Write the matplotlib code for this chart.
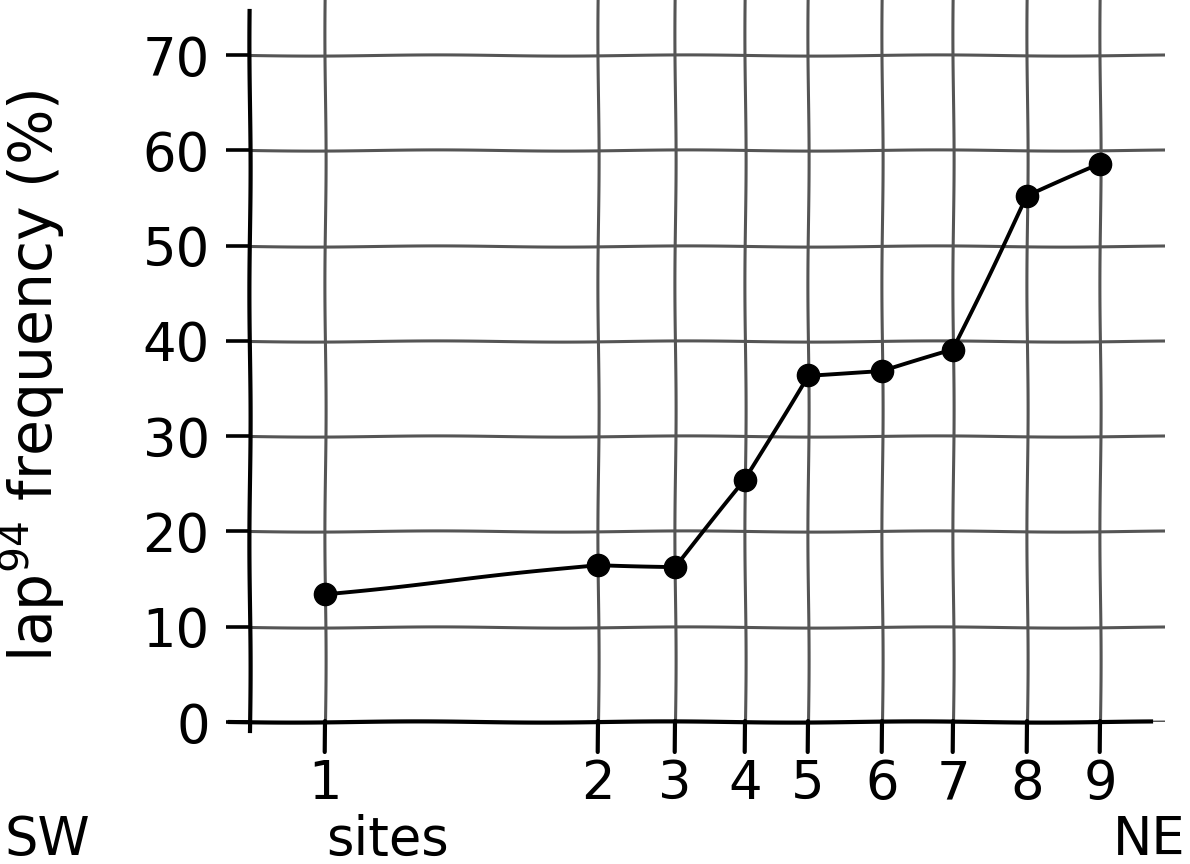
import matplotlib
matplotlib.use("Agg")
import matplotlib.pyplot as plt

# sites along the SW -> NE transect (relative distance)
sites = ["1", "2", "3", "4", "5", "6", "7", "8", "9"]
site_dist = [0, 27.3, 35.0, 42.0, 48.3, 55.7, 62.8, 70.2, 77.5]
freq = [13.4, 16.5, 16.3, 25.4, 36.4, 36.8, 39.1, 55.2, 58.6]
yticks = [0, 10, 20, 30, 40, 50, 60, 70]

plt.rcParams['font.family'] = ['DejaVu Sans']
wobble = (0.6, 250, 1)

fig = plt.figure(figsize=(11.9, 8.64), dpi=100)
ax = fig.add_axes([250 / 1190, 142 / 864, 915 / 1190, 722 / 864])

line, = ax.plot(site_dist, freq, color='black', lw=2.8, marker='o', ms=16,
                zorder=5)
line.set_sketch_params(*wobble)

ax.set_xlim(-7.5, 84.0)
ax.set_ylim(0, 75.8)
ax.set_xticks(site_dist)
ax.set_xticklabels(sites)
ax.set_yticks(yticks)

ax.grid(True, color='#555555', lw=2.2)
ax.set_axisbelow(True)
for g in ax.get_xgridlines() + ax.get_ygridlines():
    g.set_sketch_params(*wobble)

for s in ax.spines.values():
    s.set_visible(False)
# hand drawn axis lines
for xs, ys in [([-0.022, 0.985], [0, 0]), ([0, 0], [-0.012, 0.985])]:
    l, = ax.plot(xs, ys, transform=ax.transAxes, color='black',
                 lw=3, clip_on=False, zorder=6)
    l.set_sketch_params(*wobble)

# site tick marks hanging below the x axis (sketched like the axis lines)
for x in site_dist:
    t, = ax.plot([x, x], [0.002, -0.042], transform=ax.get_xaxis_transform(),
                 color='black', lw=3, clip_on=False, zorder=7,
                 solid_capstyle='round')
    t.set_sketch_params(0.4, 250, 1)

ax.tick_params(axis='y', direction='out', width=2.6, color='black',
               labelsize=38, length=17, pad=12)
ax.tick_params(axis='x', length=0, labelsize=38, pad=26)

ax.set_ylabel(r'lap$^{94}$ frequency (%)', fontsize=42)
ax.yaxis.set_label_coords(-0.2, 0.48)

fig.text(4 / 1190, 1 - 840 / 864, 'SW', fontsize=38, ha='left', va='center')
fig.text(388 / 1190, 1 - 840 / 864, 'sites', fontsize=38, ha='center', va='center')
fig.text(1186 / 1190, 1 - 840 / 864, 'NE', fontsize=38, ha='right', va='center')

fig.savefig('out.png', dpi=100, facecolor='white')
